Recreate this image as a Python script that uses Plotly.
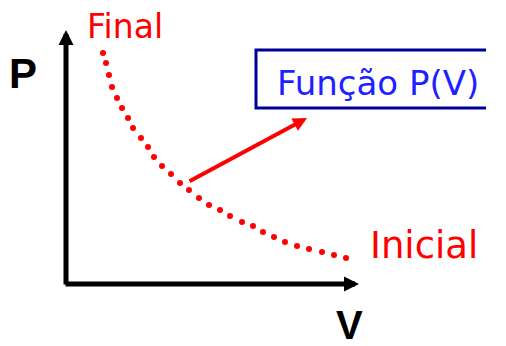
import plotly.graph_objects as go

# dotted P(V) curve, origin at the axis corner
curve_v = [37, 40, 43, 46, 51, 56, 62, 67, 75, 82, 88, 96, 105, 114, 123, 133,
           143, 154, 164, 176, 187, 197, 208, 219, 231, 243, 256, 268, 280]
curve_p = [231, 221, 209, 197, 186, 176, 166, 156, 146, 137, 127, 118, 110, 101,
           94, 86, 79, 74, 68, 62, 58, 52, 47, 42, 38, 35, 32, 29, 26]

axis_len_v = 293
axis_len_p = 254
func_arrow = dict(v0=122, p0=102, v1=241, p1=166)
box = dict(v0=190, v1=420, p0=176, p1=234)

RED = "#ff0000"
BLUE = "#1f1fff"
NAVY = "#000099"

fig = go.Figure()
fig.add_trace(go.Scatter(
    x=curve_v, y=curve_p, mode="markers",
    marker=dict(size=6, color=RED, line=dict(width=0)),
    hoverinfo="skip", showlegend=False,
))

# box is open on the right: it runs off the edge like the reference
fig.add_shape(type="path",
              path=f"M {box['v1']},{box['p1']} L {box['v0']},{box['p1']} "
                   f"L {box['v0']},{box['p0']} L {box['v1']},{box['p0']}",
              line=dict(color=NAVY, width=3), fillcolor="rgba(0,0,0,0)", layer="below")

arrows = [
    dict(x=0, y=axis_len_p, ax=0, ay=-2, color="black", w=5, s=0.6),
    dict(x=axis_len_v, y=0, ax=-2, ay=0, color="black", w=5, s=0.6),
    dict(x=func_arrow["v1"], y=func_arrow["p1"], ax=func_arrow["v0"], ay=func_arrow["p0"],
         color=RED, w=4, s=0.7),
]
for a in arrows:
    fig.add_annotation(x=a["x"], y=a["y"], ax=a["ax"], ay=a["ay"], xref="x", yref="y",
                       axref="x", ayref="y", text="", showarrow=True, arrowhead=2,
                       arrowsize=a["s"], arrowwidth=a["w"], arrowcolor=a["color"])

labels = [
    ("Final", 59, 258, RED, 33, "DejaVu Sans"),
    ("Inicial", 358, 39, RED, 37, "DejaVu Sans"),
    ("Função P(V)", 312, 201, BLUE, 34, "DejaVu Sans"),
    ("<b>P</b>", -43, 211, "black", 42, "Liberation Sans"),
    ("<b>V</b>", 283, -41, "black", 40, "Liberation Sans"),
]
for txt, v, p, col, size, fam in labels:
    fig.add_annotation(x=v, y=p, text=txt, showarrow=False, xanchor="center", yanchor="middle",
                       font=dict(color=col, size=size, family=fam))

# the page body keeps an 8px margin, so the figure covers 498x338 of the window
fig.update_xaxes(range=[-58, 440], visible=False)
fig.update_yaxes(range=[-62, 276], visible=False)
fig.update_layout(width=498, height=338, margin=dict(l=0, r=0, t=0, b=0),
                  plot_bgcolor="white", paper_bgcolor="white")
fig.write_html("out.html")
